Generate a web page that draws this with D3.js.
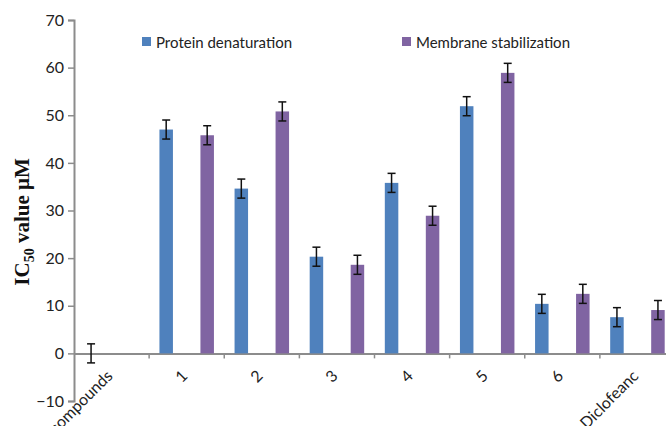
<!DOCTYPE html>
<html><head><meta charset="utf-8">
<script src="https://cdn.jsdelivr.net/npm/d3@7"></script>
<style>body{margin:0;background:#fff;}svg{display:block;}</style>
</head><body>
<svg id="c" width="666" height="426"></svg>
<script>
const categories = ["compounds","1","2","3","4","5","6","Diclofeanc"];
const protein = [0, 47.0, 34.6, 20.3, 35.8, 51.9, 10.4, 7.6];
const membrane = [null, 45.8, 50.8, 18.6, 28.9, 58.9, 12.5, 9.1];
const proteinErr = [2, 2, 2, 2, 2, 2, 2, 2];
const membraneErr = [null, 2, 2, 2, 2, 2, 2, 2];
const yTicks = [-10, 0, 10, 20, 30, 40, 50, 60, 70];
const seriesNames = ["Protein denaturation", "Membrane stabilization"];
const colors = ["#4f81bd", "#8064a2"];

const svg = d3.select("#c");
const x0 = 74, plotRight = 675;
const x = d3.scaleBand().domain(categories).range([x0, plotRight]).paddingInner(0).paddingOuter(0);
const y = d3.scaleLinear().domain([-10, 70]).range([401, 20]);
const bw = 13.5, off = 20.5;
const font = "Lato, 'Open Sans', sans-serif";

// axes
const yAxis = d3.axisLeft(y).tickValues(yTicks).tickSize(6).tickPadding(4);
const gy = svg.append("g").attr("transform", `translate(${x0},0)`).call(yAxis);
gy.select(".domain").attr("stroke", "#8c8c8c").attr("stroke-width", 2);
gy.selectAll(".tick line").attr("stroke", "#8c8c8c").attr("stroke-width", 1.5);
gy.selectAll(".tick text").attr("font-family", font).attr("font-size", 16).attr("fill", "#222");

const xAxis = d3.axisBottom(x).tickSize(0).tickFormat("");
const gx = svg.append("g").attr("transform", `translate(0,${y(0)})`).call(xAxis);
gx.select(".domain").attr("stroke", "#8c8c8c").attr("stroke-width", 2);
gx.selectAll(".tick").remove();
// category boundary ticks
gx.selectAll("line.bt").data(categories.slice(1)).enter().append("line")
  .attr("x1", d => x(d)).attr("x2", d => x(d)).attr("y1", 0).attr("y2", 5)
  .attr("stroke", "#8c8c8c").attr("stroke-width", 1.5);

// bars
const series = [
  {vals: protein, errs: proteinErr, dx: -off, color: colors[0]},
  {vals: membrane, errs: membraneErr, dx: off, color: colors[1]}
];
series.forEach(s => {
  const data = categories.map((c, i) => ({c, v: s.vals[i], e: s.errs[i]})).filter(d => d.v !== null);
  svg.append("g").selectAll("rect").data(data.filter(d => d.v > 0)).enter().append("rect")
    .attr("x", d => x(d.c) + x.bandwidth()/2 + s.dx - bw/2)
    .attr("width", bw)
    .attr("y", d => y(d.v))
    .attr("height", d => y(0) - y(d.v))
    .attr("fill", s.color);
  const eg = svg.append("g").attr("stroke", "#111").attr("stroke-width", 1.5);
  data.forEach(d => {
    const cx = x(d.c) + x.bandwidth()/2 + s.dx;
    eg.append("line").attr("x1", cx).attr("x2", cx).attr("y1", y(d.v + d.e)).attr("y2", y(d.v - d.e));
    eg.append("line").attr("x1", cx - 4).attr("x2", cx + 4).attr("y1", y(d.v + d.e)).attr("y2", y(d.v + d.e));
    eg.append("line").attr("x1", cx - 4).attr("x2", cx + 4).attr("y1", y(d.v - d.e)).attr("y2", y(d.v - d.e));
  });
});

// x labels
svg.append("g").selectAll("text").data(categories).enter().append("text")
  .attr("transform", d => `translate(${x(d) + x.bandwidth()/2 + 2},${377}) rotate(-45)`)
  .attr("text-anchor", "end")
  .attr("font-family", font).attr("font-size", 16).attr("fill", "#222")
  .text(d => d);

// y title
const yt = svg.append("text")
  .attr("transform", "translate(29,222) rotate(-90)")
  .attr("text-anchor", "middle")
  .attr("font-family", "'Liberation Serif', 'Times New Roman', serif")
  .attr("font-weight", "bold").attr("font-size", 21).attr("fill", "#111");
yt.append("tspan").text("IC");
yt.append("tspan").attr("font-size", 14).attr("dy", 5).text("50");
yt.append("tspan").attr("dy", -5).text(" value μM");

// legend
const legX = [142, 402];
seriesNames.forEach((n, i) => {
  svg.append("rect").attr("x", legX[i]).attr("y", 37).attr("width", 9).attr("height", 9).attr("fill", colors[i]);
  svg.append("text").attr("x", legX[i] + 14).attr("y", 47.5)
    .attr("font-family", font).attr("font-size", 15).attr("fill", "#222").text(n);
});
</script>
</body></html>
